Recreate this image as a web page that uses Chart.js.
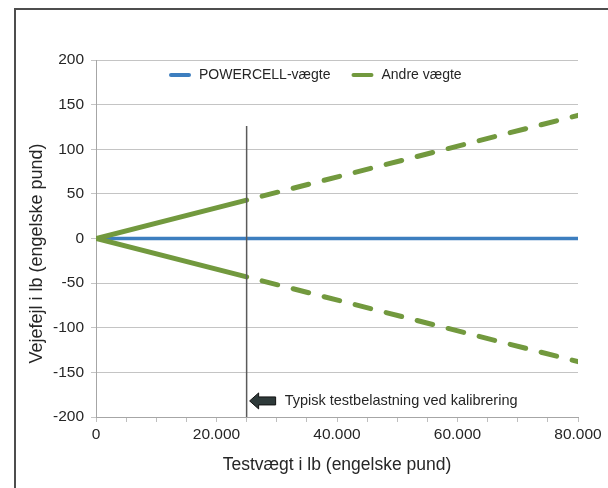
<!DOCTYPE html>
<html>
<head>
<meta charset="utf-8">
<script src="https://cdn.jsdelivr.net/npm/chart.js@4.4.1/dist/chart.umd.min.js"></script>
<style>
  html, body { margin: 0; padding: 0; background: #fff; }
  canvas { display: block; }
</style>
</head>
<body>
<canvas id="myChart" width="608" height="488"></canvas>
<script>
// testvægt (lb) og vejefejl (lb)
const testLoads = [0, 25000, 80000];
const powercellError = [0, 0, 0];
const otherUpperError = [0, 43, 138];
const otherLowerError = [0, -43, -138];
const calibrationLoad = 25000;
const markerRange = [-200, 126];
const annotationY = -182;
const seriesNames = ['POWERCELL-vægte', 'Andre vægte'];
const xTickValues = [0, 20000, 40000, 60000, 80000];
const xTickLabels = ['0', '20.000', '40.000', '60.000', '80.000'];
const annotationText = 'Typisk testbelastning ved kalibrering';

const blue = '#3d7ebf';
const green = '#72993e';
const textColor = '#262626';
const fontFamily = '"Liberation Sans", Arial, sans-serif';

Chart.defaults.font.family = fontFamily;

function points(ys) {
    return testLoads.map((x, i) => ({ x: x, y: ys[i] }));
}

// stiplet efter kalibreringspunktet
const dashAfterCalibration = {
    borderDash: ctx => ctx.p0.parsed.x >= calibrationLoad ? [16, 16] : undefined
};

const decorations = {
    id: 'decorations',
    beforeDraw(chart) {
        const ctx = chart.ctx;
        ctx.save();
        ctx.fillStyle = '#fff';
        ctx.fillRect(0, 0, chart.width, chart.height);
        ctx.strokeStyle = '#4d4d4d';
        ctx.lineWidth = 2;
        ctx.beginPath();
        ctx.moveTo(15, chart.height);
        ctx.lineTo(15, 9);
        ctx.lineTo(chart.width, 9);
        ctx.stroke();
        ctx.restore();
    },
    afterDraw(chart) {
        const { ctx, chartArea, scales } = chart;
        ctx.save();

        // forklaring
        ctx.font = '14px ' + fontFamily;
        ctx.textBaseline = 'middle';
        ctx.lineCap = 'round';
        ctx.lineWidth = 4;
        const ly = chartArea.top + 15;
        let lx = chartArea.left + 75;
        [blue, green].forEach((c, i) => {
            ctx.strokeStyle = c;
            ctx.beginPath();
            ctx.moveTo(lx, ly);
            ctx.lineTo(lx + 18, ly);
            ctx.stroke();
            ctx.fillStyle = textColor;
            ctx.fillText(seriesNames[i], lx + 28, ly);
            lx += 28 + ctx.measureText(seriesNames[i]).width + 23;
        });

        // pil og tekst
        const ax = scales.x.getPixelForValue(calibrationLoad) + 3;
        const ay = scales.y.getPixelForValue(annotationY);
        ctx.beginPath();
        ctx.moveTo(ax, ay);
        ctx.lineTo(ax + 9, ay - 8);
        ctx.lineTo(ax + 9, ay - 4);
        ctx.lineTo(ax + 26, ay - 4);
        ctx.lineTo(ax + 26, ay + 4);
        ctx.lineTo(ax + 9, ay + 4);
        ctx.lineTo(ax + 9, ay + 8);
        ctx.closePath();
        ctx.fillStyle = '#2e3a3a';
        ctx.fill();
        ctx.lineWidth = 1;
        ctx.lineCap = 'butt';
        ctx.strokeStyle = '#111';
        ctx.stroke();
        ctx.font = '14.5px ' + fontFamily;
        ctx.fillStyle = textColor;
        ctx.fillText(annotationText, ax + 35, ay);
        ctx.restore();
    }
};

const ctx = document.getElementById('myChart').getContext('2d');
new Chart(ctx, {
    type: 'line',
    data: {
        datasets: [
            {
                label: seriesNames[0],
                data: points(powercellError),
                borderColor: blue,
                borderWidth: 3.5,
                order: 3
            },
            {
                label: seriesNames[1],
                data: points(otherUpperError),
                borderColor: green,
                borderWidth: 5,
                borderCapStyle: 'round',
                borderDashOffset: 16,
                segment: dashAfterCalibration,
                order: 2
            },
            {
                label: seriesNames[1],
                data: points(otherLowerError),
                borderColor: green,
                borderWidth: 5,
                borderCapStyle: 'round',
                borderDashOffset: 16,
                segment: dashAfterCalibration,
                order: 2
            },
            {
                label: 'kalibrering',
                data: markerRange.map(v => ({ x: calibrationLoad, y: v })),
                borderColor: '#5a5a5a',
                borderWidth: 1.5,
                order: 1
            }
        ]
    },
    options: {
        responsive: false,
        animation: false,
        devicePixelRatio: 1,
        elements: {
            point: { radius: 0 },
            line: { tension: 0 }
        },
        layout: { padding: { top: 60, right: 30, left: 0, bottom: 0 } },
        plugins: {
            legend: { display: false },
            tooltip: { enabled: false }
        },
        scales: {
            x: {
                type: 'linear',
                min: 0,
                max: 80000,
                afterFit: s => { s.height = 71; },
                grid: { drawOnChartArea: false, drawTicks: true, tickLength: 5, color: '#bfbfbf' },
                border: { color: '#a6a6a6' },
                ticks: {
                    stepSize: 5000,
                    autoSkip: false,
                    maxRotation: 0,
                    padding: 3,
                    color: textColor,
                    font: { size: 15.5 },
                    callback: v => {
                        const i = xTickValues.indexOf(v);
                        return i >= 0 ? xTickLabels[i] : '';
                    }
                },
                title: {
                    display: true,
                    text: 'Testvægt i lb (engelske pund)',
                    color: textColor,
                    font: { size: 17.5 },
                    padding: { top: 0, bottom: 12 }
                }
            },
            y: {
                min: -200,
                max: 200,
                afterFit: s => { s.width = 96; },
                grid: { color: '#c4c4c4', tickLength: 5 },
                border: { color: '#a6a6a6' },
                ticks: {
                    stepSize: 50,
                    padding: 7,
                    color: textColor,
                    font: { size: 15.5 }
                },
                title: {
                    display: true,
                    // mellemrum til sidst flytter teksten lidt ned som i originalen
                    text: 'Vejefejl i lb (engelske pund)      ',
                    color: textColor,
                    font: { size: 18 },
                    padding: { top: 26, bottom: 0 }
                }
            }
        }
    },
    plugins: [decorations]
});
</script>
</body>
</html>
